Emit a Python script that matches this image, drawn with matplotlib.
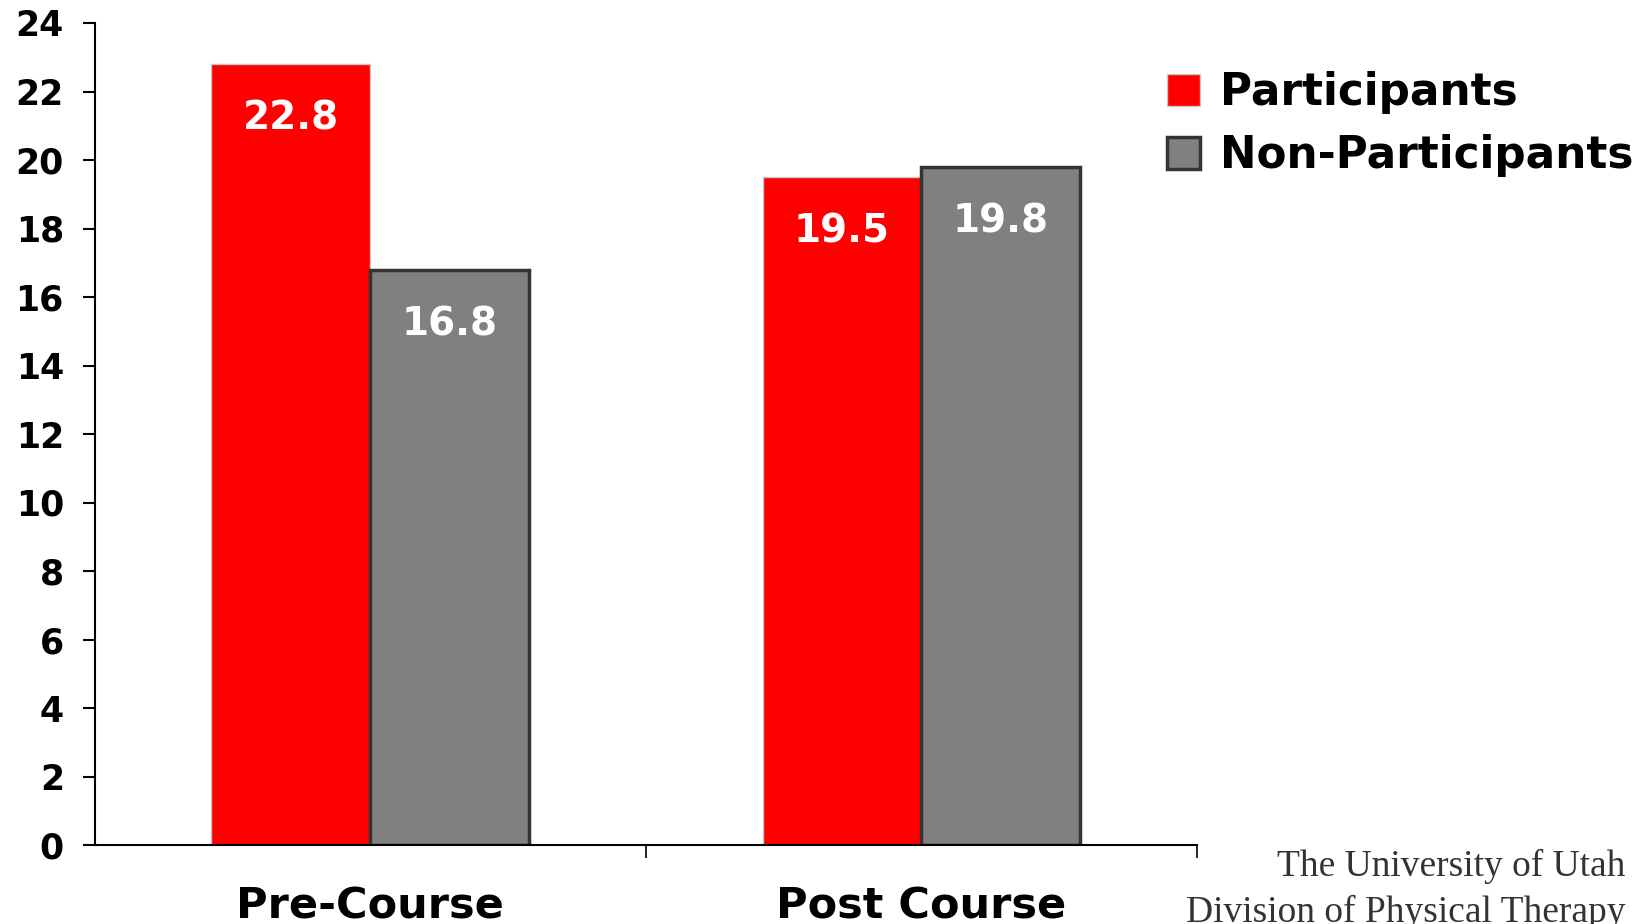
import matplotlib
matplotlib.use("Agg")
import matplotlib.pyplot as plt
import numpy as np

categories = ["Pre-Course", "Post Course"]
series_names = ["Participants", "Non-Participants"]
participants = [22.8, 19.5]
non_participants = [16.8, 19.8]
yticks = list(range(0, 25, 2))

W, H = 1646, 924
fig = plt.figure(figsize=(W / 100, H / 100), dpi=100)
ax = fig.add_axes([94.5 / W, 1 - 845 / H, (1197 - 94.5) / W, (845 - 23) / H])

x = np.arange(len(categories))
bw = 0.288
b1 = ax.bar(x - bw / 2, participants, bw, color="#ff0000", edgecolor="#c8c8c8",
            linewidth=1.0, label=series_names[0], zorder=2)
b2 = ax.bar(x + bw / 2, non_participants, bw, color="#808080", edgecolor="#333333",
            linewidth=2.5, label=series_names[1], zorder=2)

for bars, vals in ((b1, participants), (b2, non_participants)):
    for r, v in zip(bars, vals):
        ax.text(r.get_x() + r.get_width() / 2, v - 1.6, f"{v:.1f}", ha="center", va="center",
                color="white", fontsize=28, fontweight="bold", family="DejaVu Sans", zorder=3)

ax.set_xlim(-0.5, 1.5)
ax.set_ylim(0, 24)
ax.set_yticks(yticks)
ax.set_yticklabels([str(t) for t in yticks], fontsize=25, fontweight="bold", family="DejaVu Sans")
ax.set_xticks(x)
ax.set_xticklabels(categories, fontsize=31, fontweight="bold", family="DejaVu Sans")
ax.set_xticks([0.5, 1.5], minor=True)
ax.tick_params(axis="x", which="major", length=0, pad=29)
ax.tick_params(axis="x", which="minor", length=9, width=1.2, direction="out")
ax.tick_params(axis="y", length=9, width=1.5, pad=13, direction="out")

for s in ("top", "right"):
    ax.spines[s].set_visible(False)
for s in ("left", "bottom"):
    ax.spines[s].set_linewidth(1.5)

leg = fig.legend(handles=[b1, b2], labels=series_names, loc="upper left",
                 bbox_to_anchor=(1128 / W, 1 - 32 / H), frameon=False,
                 prop={"family": "DejaVu Sans", "weight": "bold", "size": 31.5},
                 handlelength=0.75, handleheight=0.75, handletextpad=0.45, labelspacing=0.45)

fig.text(1625 / W, 1 - 866 / H, "The University of Utah", ha="right", va="center",
         fontsize=27, family="Liberation Serif", color="#333333")
fig.text(1625 / W, 1 - 912 / H, "Division of Physical Therapy", ha="right", va="center",
         fontsize=27, family="Liberation Serif", color="#333333")

fig.savefig("out.png", dpi=100)
